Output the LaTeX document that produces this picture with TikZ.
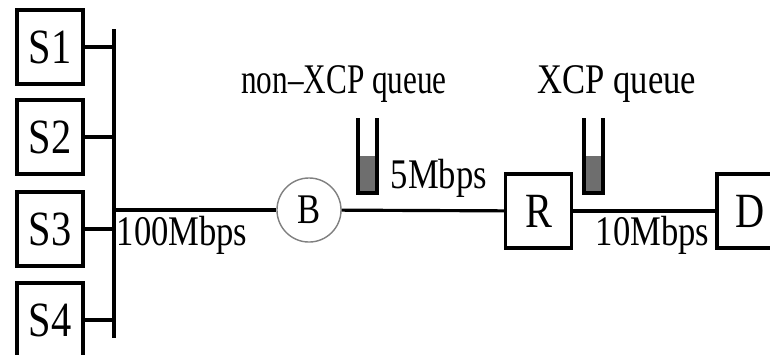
\documentclass[tikz,border=0pt]{standalone}
\usepackage{fontspec}
\setmainfont{Liberation Serif}[FakeStretch=0.82]
\newfontfamily\narrowserif{Liberation Serif}[FakeStretch=0.74,Ligatures=TeX]
\usetikzlibrary{positioning,calc}
\tikzset{hostbox/.style={draw,line width=0.9pt,minimum width=0.66cm,minimum height=0.74cm,inner sep=0pt,font=\fontsize{14}{16}\selectfont},
  router/.style={circle,draw=gray,line width=0.4pt,minimum size=0.64cm,inner sep=0pt,font=\fontsize{12}{14}\selectfont},
  lbl/.style={inner sep=0pt,font=\fontsize{12}{14}\selectfont},
  wire/.style={line width=0.9pt}}

\begin{document}
\begin{tikzpicture}[x=0.01cm,y=-0.01cm]
\useasboundingbox (0,0) rectangle (770,354);
% senders on the bus
\foreach \i/\y in {1/47,2/137,3/229,4/320}
  \node[hostbox] (S\i) at (50,\y) {S\i};
\coordinate (bustop) at (114,29);
\coordinate (busbot) at (114,338);
\draw[wire] (bustop) -- (busbot);
\foreach \i in {1,...,4} \draw[wire] (S\i.east) -- (S\i.east -| bustop);
% path B -> R -> D
\node[router] (B) at (309,210) {B};
\node[hostbox] (R) at (538.5,211) {R};
\node[hostbox] (D) at (750,211) {D};
\draw[wire] (B.west -| bustop) -- (B.west);
\draw[wire] (B) -- (R);
\draw[wire] (R) -- (D);
% queues
\foreach \qx in {358,584}{
  \fill[black!57] (\qx,156) rectangle (\qx+19,193);
  \draw[wire] (\qx,118) -- (\qx,193) -- (\qx+19,193) -- (\qx+19,118);
}
\node[lbl,anchor=base,font=\fontsize{12}{14}\narrowserif] (qnon) at (344,93) {non--XCP queue};
\node[lbl,anchor=base] (qxcp) at (617,93) {XCP queue};
% link speeds
\node[lbl,anchor=base west] (l100) at (116,245) {100Mbps};
\node[lbl,anchor=base west] (l5) at (390,188) {5Mbps};
\node[lbl,anchor=base west] (l10) at (595,245) {10Mbps};
\end{tikzpicture}
\end{document}
